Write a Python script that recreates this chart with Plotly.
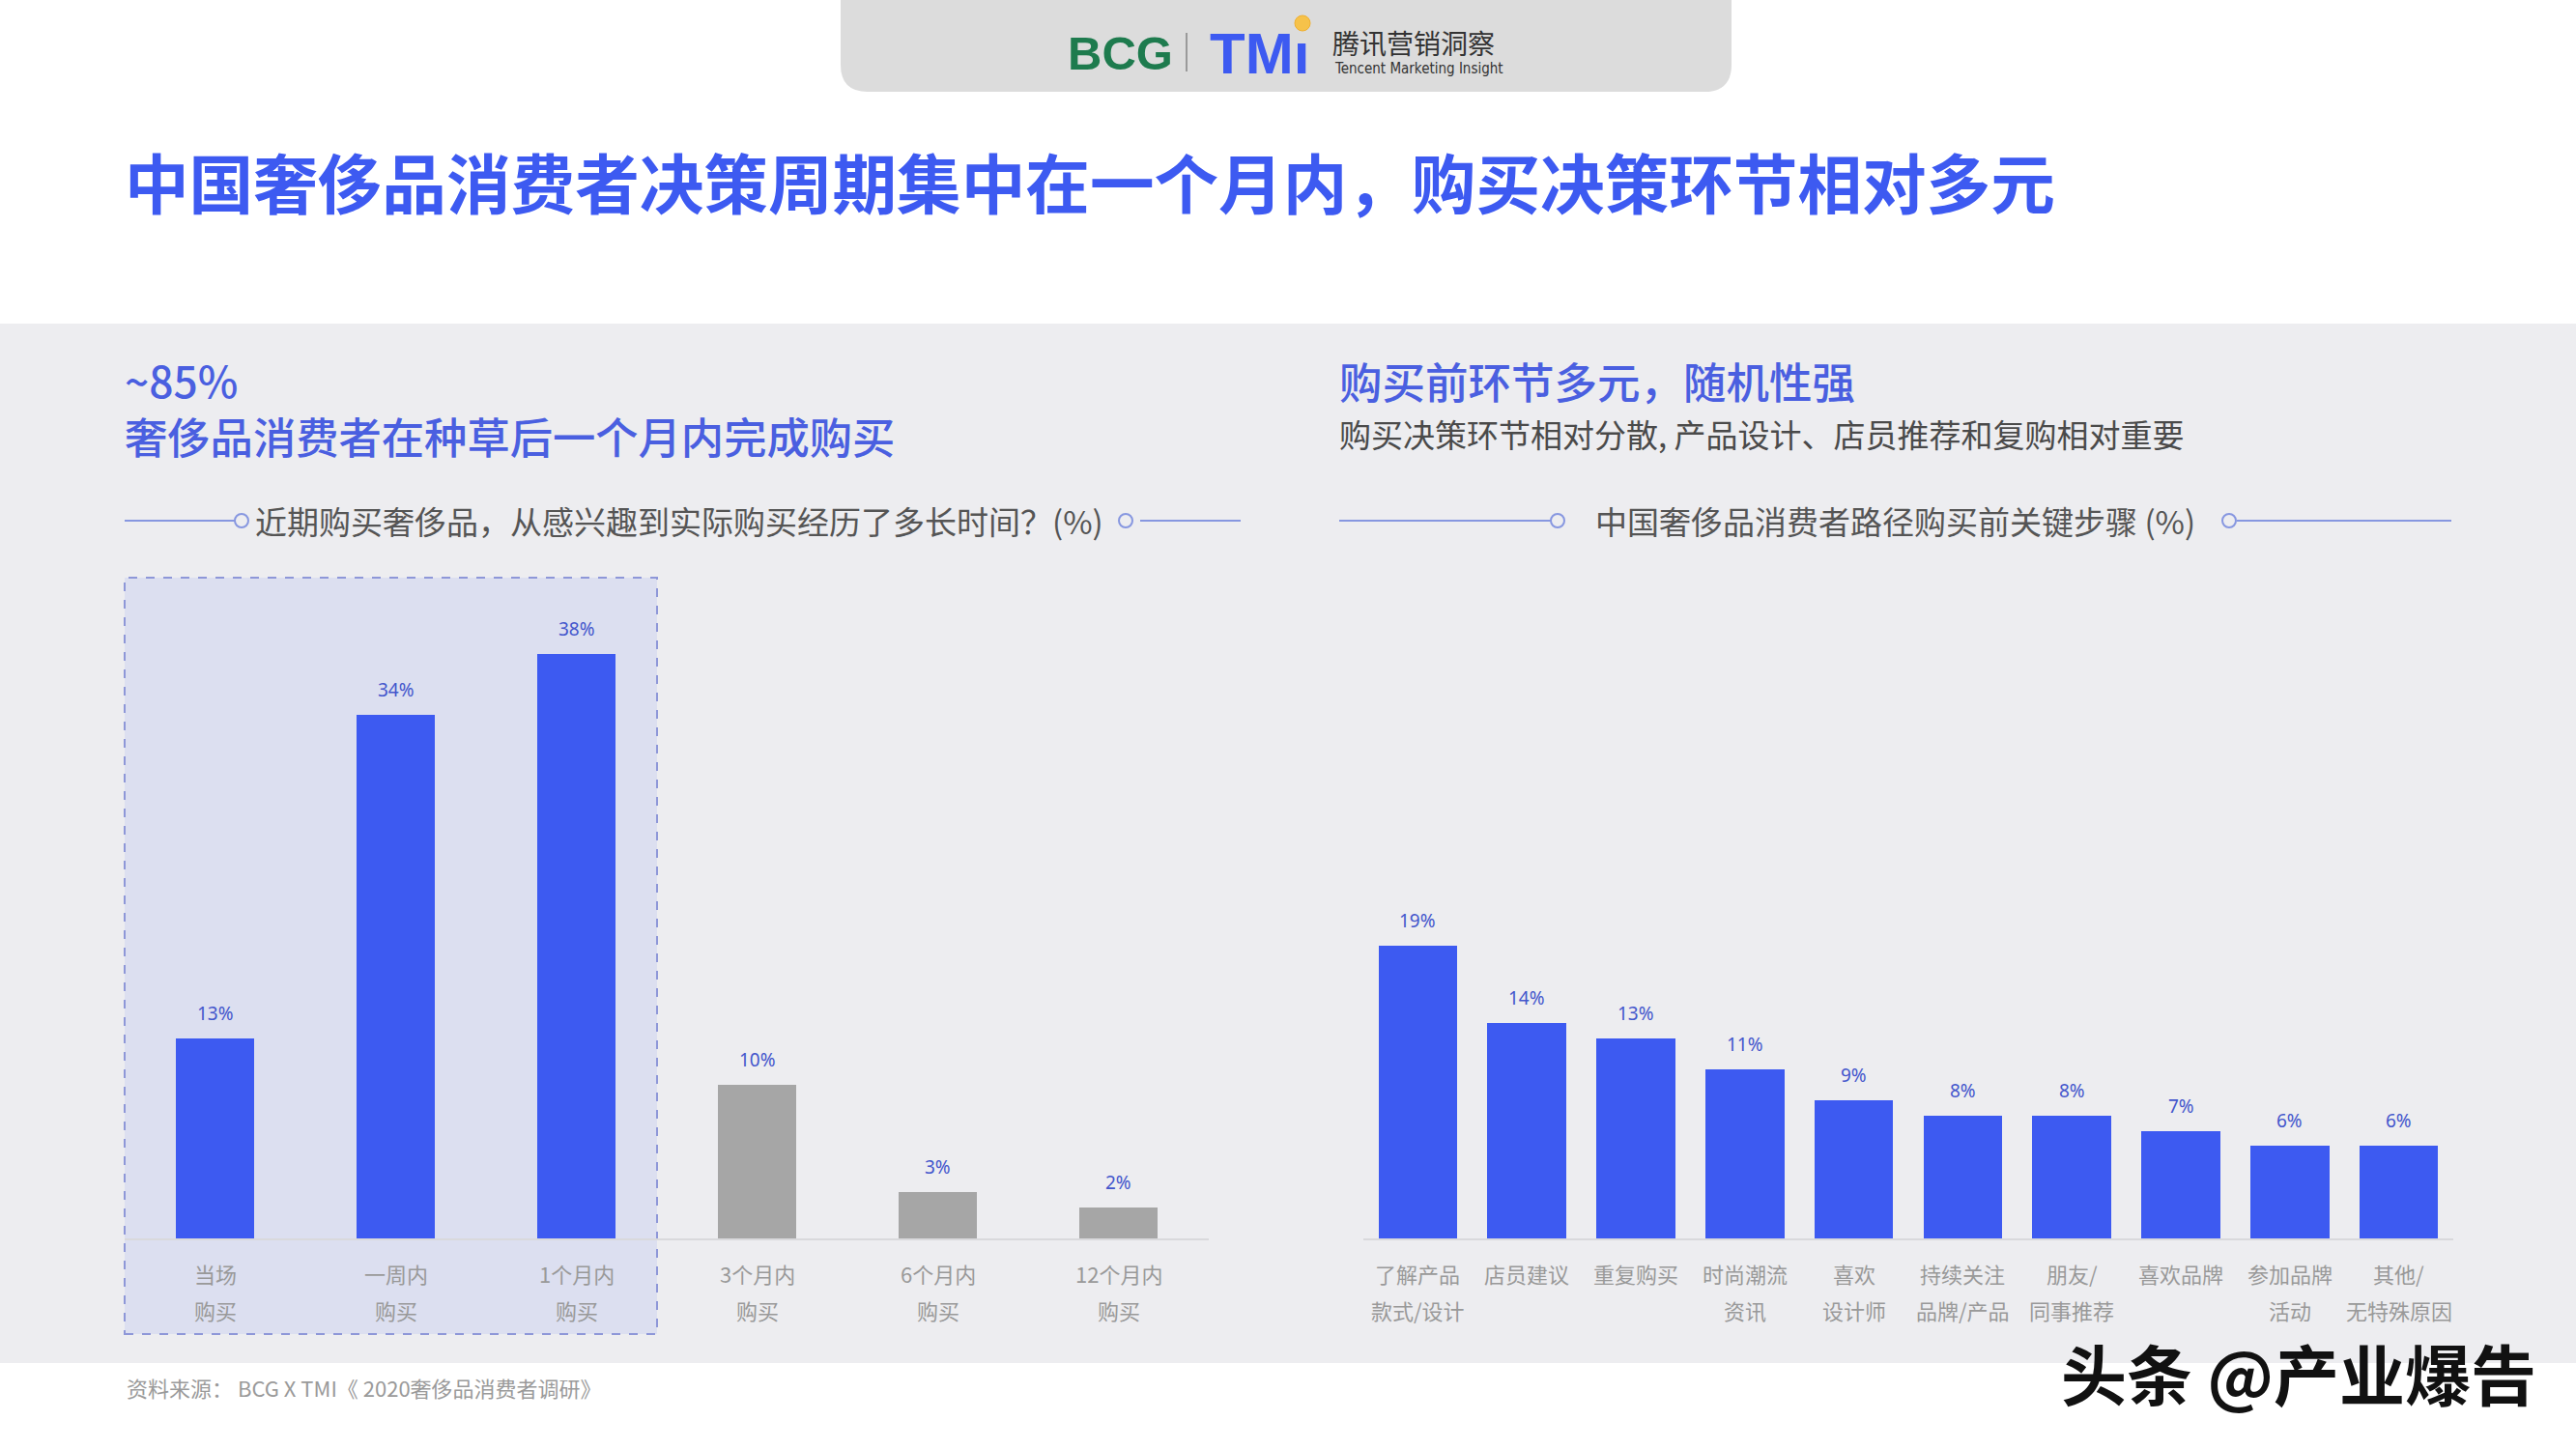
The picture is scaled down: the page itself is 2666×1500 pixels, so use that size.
import plotly.graph_objects as go

W, H = 2666, 1500

# ---------------- data ----------------
left_cat_line1 = ["当场", "一周内", "1个月内", "3个月内", "6个月内", "12个月内"]
left_cat_line2 = ["购买", "购买", "购买", "购买", "购买", "购买"]
left_values = [13, 34, 38, 10, 3, 2]
left_highlight = [True, True, True, False, False, False]

right_cat_line1 = ["了解产品", "店员建议", "重复购买", "时尚潮流", "喜欢", "持续关注", "朋友/", "喜欢品牌", "参加品牌", "其他/"]
right_cat_line2 = ["款式/设计", "", "", "资讯", "设计师", "品牌/产品", "同事推荐", "", "活动", "无特殊原因"]
right_values = [19, 14, 13, 11, 9, 8, 8, 7, 6, 6]

title_text = "中国奢侈品消费者决策周期集中在一个月内，购买决策环节相对多元"
left_head1 = "~85%"
left_head2 = "奢侈品消费者在种草后一个月内完成购买"
left_chart_title = "近期购买奢侈品，从感兴趣到实际购买经历了多长时间？(%)"
right_head1 = "购买前环节多元，随机性强"
right_head2 = "购买决策环节相对分散, 产品设计、店员推荐和复购相对重要"
right_chart_title = "中国奢侈品消费者路径购买前关键步骤 (%)"
source_text = "资料来源： BCG X TMI《 2020奢侈品消费者调研》"
watermark = "头条 @产业爆告"

# ---------------- style ----------------
BLUE = "#3d5af1"
GRAY_BAR = "#a6a6a6"
LABEL_BLUE = "#4356cc"
CAT_GRAY = "#999999"
PANEL = "#ededf0"
CJK = "Noto Sans CJK SC"


def px(x):
    return x / W


def py(y):
    return 1 - y / H


Y_MAX = 42.94
BASE_Y = 1282
TOP_Y = 598

fig = go.Figure()

fig.add_trace(go.Bar(
    x=list(range(len(left_values))), y=left_values,
    marker=dict(color=[BLUE if h else GRAY_BAR for h in left_highlight], line=dict(width=0)),
    width=0.436, xaxis="x", yaxis="y", hoverinfo="skip", showlegend=False,
))
fig.add_trace(go.Bar(
    x=list(range(len(right_values))), y=right_values,
    marker=dict(color=BLUE, line=dict(width=0)),
    width=0.724, xaxis="x2", yaxis="y2", hoverinfo="skip", showlegend=False,
))

ydom = [py(BASE_Y), py(TOP_Y)]
axis_common = dict(showgrid=False, zeroline=False, showticklabels=False, ticks="")
fig.update_layout(
    width=W, height=H,
    margin=dict(l=0, r=0, t=0, b=0),
    paper_bgcolor="white", plot_bgcolor="rgba(0,0,0,0)",
    bargap=0,
    xaxis=dict(domain=[px(129), px(1251)], range=[-0.5, len(left_values) - 0.5],
               showline=True, linecolor="#d9d9dc", linewidth=2, **axis_common),
    yaxis=dict(domain=ydom, range=[0, Y_MAX], showline=False, **axis_common),
    xaxis2=dict(domain=[px(1411), px(2539)], range=[-0.5, len(right_values) - 0.5], anchor="y2",
                showline=True, linecolor="#d9d9dc", linewidth=2, **axis_common),
    yaxis2=dict(domain=ydom, range=[0, Y_MAX], anchor="x2", showline=False, **axis_common),
)

shapes = []
# gray panel
shapes.append(dict(type="rect", xref="paper", yref="paper", x0=0, x1=1, y0=py(1411), y1=py(335),
                   fillcolor=PANEL, line=dict(width=0), layer="below"))
# header rounded box
hx0, hx1, hy1, r = 870, 1792, 95, 28
path = (f"M {px(hx0)},{py(0)} L {px(hx1)},{py(0)} L {px(hx1)},{py(hy1 - r)} "
        f"Q {px(hx1)},{py(hy1)} {px(hx1 - r)},{py(hy1)} L {px(hx0 + r)},{py(hy1)} "
        f"Q {px(hx0)},{py(hy1)} {px(hx0)},{py(hy1 - r)} Z")
shapes.append(dict(type="path", xref="paper", yref="paper", path=path,
                   fillcolor="#dcdcdc", line=dict(width=0), layer="below"))
# highlight dashed box
shapes.append(dict(type="rect", xref="paper", yref="paper", x0=px(129), x1=px(680), y0=py(1381), y1=py(598),
                   fillcolor="#dcdff0", line=dict(color="#8e97d8", width=2, dash="dash"), layer="below"))
# subtitle decorative lines and circles
LINE_C = "#8797e0"
for (a, b) in [(129, 243), (1180, 1284), (1386, 1605), (2315, 2537)]:
    shapes.append(dict(type="line", xref="paper", yref="paper", x0=px(a), x1=px(b), y0=py(539), y1=py(539),
                       line=dict(color=LINE_C, width=2)))
for cx in [250, 1165, 1612, 2307]:
    rr = 7
    shapes.append(dict(type="circle", xref="paper", yref="paper", x0=px(cx - rr), x1=px(cx + rr),
                       y0=py(539 + rr), y1=py(539 - rr), fillcolor=PANEL, line=dict(color=LINE_C, width=2)))
# logo separator and orange dot
shapes.append(dict(type="line", xref="paper", yref="paper", x0=px(1228), x1=px(1228), y0=py(34), y1=py(74),
                   line=dict(color="#9a9a9a", width=2)))
shapes.append(dict(type="circle", xref="paper", yref="paper", x0=px(1340), x1=px(1356), y0=py(32), y1=py(16),
                   fillcolor="#f6c24a", line=dict(color="#f0b030", width=1)))
fig.update_layout(shapes=shapes)

ann = []


def text(x, y, s, size, color, anchor="left", weight=400, family=CJK, **kw):
    ann.append(dict(xref="paper", yref="paper", x=px(x), y=py(y), text=s, showarrow=False,
                    xanchor=anchor, yanchor="middle",
                    font=dict(family=family, size=size, color=color, weight=weight), **kw))


# header logo
text(1103, 55, "BCG", 49, "#1e7b4e", weight=700, family="Liberation Sans")
text(1250, 56, "TMı", 60, BLUE, weight=900, family="Liberation Sans")
text(1377, 44, "腾讯营销洞察", 28, "#333333")
text(1379, 71, "Tencent Marketing Insight", 15, "#333333", family="DejaVu Sans Condensed")

# title
text(127, 187, title_text, 66.6, BLUE, weight=700)

# headings
text(127, 421.5, left_head1 + "<br>" + left_head2, 44.3, "#4a5fe0", weight=500, align="left")
text(1384, 394, right_head1, 44.5, "#4a5fe0", weight=500)
text(1384, 449, right_head2, 33, "#4a4a4a")

# chart titles
text(262, 539, left_chart_title, 33, "#555555")
text(1649, 539, right_chart_title, 33, "#555555")

# footer + watermark
text(129, 1436, source_text, 22, "#9a9a9a")
text(2379, 1420, watermark, 68, "#111111", anchor="center", weight=700)

# value labels
for xa, ya, vals in [("x", "y", left_values), ("x2", "y2", right_values)]:
    for i, v in enumerate(vals):
        ann.append(dict(xref=xa, yref=ya, x=i, y=v, text=f"{v}%", showarrow=False,
                        xanchor="center", yanchor="bottom", yshift=11,
                        font=dict(family="Noto Sans", size=19, color=LABEL_BLUE)))

# category labels
for xa, l1, l2 in [("x", left_cat_line1, left_cat_line2), ("x2", right_cat_line1, right_cat_line2)]:
    for i, (a, b) in enumerate(zip(l1, l2)):
        for s, yy in [(a, 1318), (b, 1356)]:
            if s:
                ann.append(dict(xref=xa, yref="paper", x=i, y=py(yy), text=s, showarrow=False,
                                xanchor="center", yanchor="middle",
                                font=dict(family=CJK, size=22, color=CAT_GRAY)))

fig.update_layout(annotations=ann)
fig.write_html("out.html")
